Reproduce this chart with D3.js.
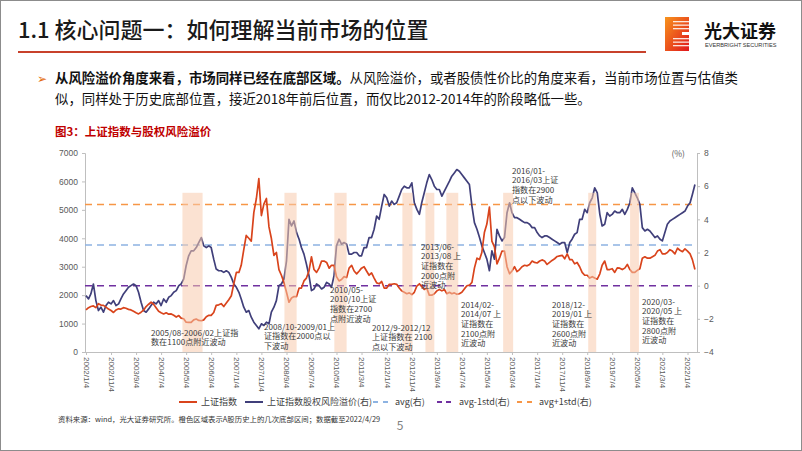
<!DOCTYPE html>
<html><head><meta charset="utf-8">
<script src="https://cdn.jsdelivr.net/npm/d3@7"></script>
<style>
html,body{margin:0;padding:0;background:#fff;}
svg{display:block;font-family:"Noto Sans CJK SC","Noto Sans",sans-serif;}
</style></head>
<body>
<svg id="c" width="802" height="451"></svg>
<script>
// ---------- DATA ----------
const seriesStart = "2002-01-04";   // monthly observations, one per month
const indexValues = [
 1480,1560,1600,1620,1560,1700,1650,1640,1580,1510,1460,1390,
 1480,1520,1510,1560,1540,1500,1480,1430,1380,1340,1400,1470,
 1600,1680,1750,1680,1560,1430,1380,1340,1380,1330,1340,1290,
 1230,1280,1190,1170,1050,1040,1040,1130,1160,1110,1100,1130,
 1240,1290,1290,1390,1640,1660,1700,1600,1720,1840,1980,2400,
 2800,2800,3050,3600,4100,4000,3900,4900,5400,6100,4800,5200,
 5400,4400,4000,3400,3500,2900,2700,2450,2100,1750,1900,1950,
 1950,2250,2250,2500,2600,2850,3350,2900,2800,2950,3200,3200,
 3150,2950,3050,3050,2650,2500,2550,2650,2620,2950,3050,2850,
 2750,2850,2950,3000,2850,2700,2780,2600,2430,2400,2480,2250,
 2250,2380,2380,2400,2380,2250,2150,2100,2050,2080,2020,2100,
 2320,2400,2300,2200,2250,2000,2000,2050,2150,2200,2150,2200,
 2050,2100,2050,2080,2030,2050,2100,2220,2330,2350,2450,2950,
 3300,3250,3500,4200,4500,5100,3900,3700,3100,3300,3550,3550,
 3000,2750,2850,3000,2830,2900,3000,3050,3030,3080,3200,3150,
 3130,3200,3240,3200,3080,3150,3220,3280,3360,3380,3400,3280,
 3450,3250,3250,3100,3150,3000,2800,2700,2700,2600,2650,2600,
 2560,2750,3050,3200,2900,2900,2930,2800,2960,2950,2900,2950,
 3080,2900,2800,2800,2870,2930,3300,3350,3300,3300,3350,3400,
 3550,3600,3450,3450,3500,3600,3550,3450,3650,3580,3530,3630,
 3550,3450,3250,2900
];
const erpValues = [
 -0.6,-0.8,-0.5,0.1,-0.9,-1.5,-1.3,-1.6,-1.2,-1.0,-1.1,-0.9,
 -1.2,-1.1,-0.8,-0.5,-0.3,-0.1,0.0,0.1,0.0,-0.4,-1.0,-1.5,
 -1.6,-1.4,-1.2,-1.0,-1.1,-0.9,-1.2,-0.8,-1.0,-0.7,-0.6,-0.4,
 -0.3,0.0,0.1,0.4,1.2,1.8,2.1,2.1,2.3,2.6,2.9,2.4,
 2.3,2.4,2.3,1.6,1.0,0.9,0.9,0.8,0.9,0.8,0.5,0.1,
 -0.1,-0.4,-0.8,-1.3,-1.6,-1.5,-1.9,-2.2,-2.4,-2.6,-2.3,-2.4,
 -2.2,-2.3,-1.6,-1.3,-0.9,0.0,0.1,0.4,1.5,4.0,3.6,3.9,
 3.2,2.8,2.3,1.9,1.3,0.6,-0.3,-0.2,0.1,0.0,-0.2,-0.1,
 0.2,0.1,-0.1,0.6,2.4,2.8,2.5,2.6,2.5,1.9,1.9,2.0,
 2.0,1.8,1.8,2.3,2.3,2.9,2.9,3.4,4.2,4.0,4.8,5.5,
 5.3,4.8,5.1,4.9,5.0,5.4,5.8,6.0,5.9,5.9,6.2,5.0,
 4.6,4.3,5.0,5.6,6.2,6.7,6.4,6.0,5.8,5.8,5.4,5.7,
 6.0,6.3,6.6,6.8,7.0,6.9,6.7,6.5,6.3,6.1,4.8,3.8,
 3.4,2.9,2.4,2.0,1.6,0.9,2.1,1.6,3.4,3.0,2.7,2.9,
 4.4,5.0,4.4,4.1,4.1,4.0,3.9,3.8,3.8,3.7,3.5,3.5,
 3.2,3.0,2.9,3.0,3.0,2.9,2.8,2.7,2.6,2.5,2.6,2.6,
 2.0,2.6,2.8,3.1,3.2,4.0,4.0,4.6,4.4,5.0,5.3,5.9,
 5.6,4.3,3.6,3.7,4.4,4.2,4.3,4.5,4.4,4.4,4.6,4.3,
 4.6,5.0,5.9,5.6,5.3,4.9,3.5,3.3,3.4,3.3,3.1,2.9,
 3.0,2.8,2.7,3.2,3.7,3.9,4.0,4.1,4.2,4.3,4.4,4.5,
 4.8,5.0,5.5,6.1
];
const refNames  = ["avg(右)", "avg-1std(右)", "avg+1std(右)"];
const refValues = [2.45, 0.0, 4.9];
const bandStarts = ["2005-03-20","2008-08-10","2010-04-08","2012-07-12","2013-04-18","2013-12-28","2015-11-18","2018-09-16","2020-02-06"];
const bandEnds   = ["2005-11-20","2009-01-05","2010-09-04","2012-11-12","2013-08-04","2014-05-22","2016-03-18","2018-12-22","2020-05-24"];
const bandTop = 5600;
const xTickLabels = ["2002/1/4","2002/11/4","2003/9/4","2004/7/4","2005/5/4","2006/3/4","2007/1/4","2007/11/4","2008/9/4","2009/7/4","2010/5/4","2011/3/4","2012/1/4","2012/11/4","2013/9/4","2014/7/4","2015/5/4","2016/3/4","2017/1/4","2017/11/4","2018/9/4","2019/7/4","2020/5/4","2021/3/4","2022/1/4"];
const leftTicks  = [0,1000,2000,3000,4000,5000,6000,7000];
const rightTicks = [-4,-2,0,2,4,6,8];
const annotations = [
 ["2005/08-2006/02上证指","数在1100点附近波动"],
 ["2008/10-2009/01上","证指数在2000点以","下波动"],
 ["2010/05-","2010/10上证","指数在2700","点附近波动"],
 ["2012/9-2012/12","上证指数在 2100","点以下波动"],
 ["2013/06-","2013/08 上","证指数在","2000点附","近波动"],
 ["2014/02-","2014/07 上","证指数在","2100点附","近波动"],
 ["2016/01-","2016/03上证","指数在2900","点以下波动"],
 ["2018/12-","2019/01 上","证指数在","2600点附","近波动"],
 ["2020/03-","2020/05 上","证指数在","2800点附","近波动"]
];
const annoAnchor = [[151,333],[264,327],[330,290],[372,328],[421,247],[461,305],[512,171],[552,305],[642,302]];

// ---------- SCALES ----------
const svg = d3.select("#c");
const parse = d3.timeParse("%Y-%m-%d");
const parseTick = d3.timeParse("%Y/%m/%d");
const x = d3.scaleTime().domain([parse("2002-01-04"), parse("2022-04-29")]).range([86, 697]);
const yL = d3.scaleLinear().domain([0,7000]).range([352,153]);
const yR = d3.scaleLinear().domain([-4,8]).range([352,153]);
const months = d3.timeMonth.range(parse("2002-01-01"), parse("2022-05-01")).map(d => d3.timeDay.offset(d, 3));
const idx = months.map((d,i) => ({d, v: indexValues[i]}));
const erp = months.map((d,i) => ({d, v: erpValues[i]}));

// ---------- FRAME / HEADER ----------
svg.append("rect").attr("x",0.5).attr("y",0.5).attr("width",801).attr("height",450).attr("fill","none").attr("stroke","#8c8c8c");
svg.append("text").attr("x",18).attr("y",38).attr("font-size",22).attr("font-weight",500).attr("fill","#1a1a1a").text("1.1 核心问题一：如何理解当前市场的位置");
svg.append("line").attr("x1",18).attr("x2",646).attr("y1",52).attr("y2",52).attr("stroke","#c8412b").attr("stroke-width",2);
const defs = svg.append("defs");
const lg = defs.append("linearGradient").attr("id","lg").attr("x1",0).attr("y1",0).attr("x2",1).attr("y2",1);
lg.append("stop").attr("offset",0).attr("stop-color","#f7941d");
lg.append("stop").attr("offset",1).attr("stop-color","#e0161d");
svg.append("rect").attr("x",665).attr("y",17).attr("width",24).attr("height",34).attr("fill","url(#lg)");
[21,24.5,28,38,41.5,45].forEach(yy=>{
  svg.append("rect").attr("x",673).attr("y",yy).attr("width",17).attr("height",1.3).attr("fill","#fff").attr("opacity",0.85);
});
svg.append("rect").attr("x",682).attr("y",32).attr("width",8).attr("height",3).attr("fill","#fff");
svg.append("text").attr("x",704).attr("y",38).attr("font-size",18).attr("font-weight",700).attr("fill","#111").text("光大证券");
svg.append("text").attr("x",705).attr("y",47).attr("font-size",5.6).attr("fill","#333").attr("font-family","Liberation Sans, Arial").text("EVERBRIGHT SECURITIES");

svg.append("text").attr("x",37).attr("y",83).attr("font-size",12).attr("fill","#e46c0a").text("➢");
const p1 = svg.append("text").attr("x",55).attr("y",83).attr("font-size",13.4).attr("fill","#111");
p1.append("tspan").attr("font-weight",700).text("从风险溢价角度来看，市场同样已经在底部区域。");
p1.append("tspan").text("从风险溢价，或者股债性价比的角度来看，当前市场位置与估值类");
svg.append("text").attr("x",55).attr("y",104).attr("font-size",13.4).attr("fill","#111").text("似，同样处于历史底部位置，接近2018年前后位置，而仅比2012-2014年的阶段略低一些。");

svg.append("text").attr("x",55).attr("y",136).attr("font-size",11.5).attr("font-weight",700).attr("fill","#c00000").text("图3：上证指数与股权风险溢价");

// ---------- AXES ----------
const axL = svg.append("g").attr("transform","translate(85,0)").call(d3.axisLeft(yL).tickValues(leftTicks).tickSize(3).tickPadding(4).tickFormat(d3.format("d")));
const axR = svg.append("g").attr("transform","translate(697,0)").call(d3.axisRight(yR).tickValues(rightTicks).tickSize(3).tickPadding(4).tickFormat(d3.format("d")));
const axB = svg.append("g").attr("transform","translate(0,352)").call(d3.axisBottom(x).tickValues(xTickLabels.map(parseTick)).tickSize(3).tickFormat((d,i)=>xTickLabels[i]));
[axL,axR,axB].forEach(g=>{
  g.selectAll("path,line").attr("stroke","#bfbfbf");
  g.selectAll("text").attr("fill","#595959").attr("font-size",8.5).attr("font-family","Liberation Sans, Arial, sans-serif");
});
axB.select(".domain").attr("d","M85,0.5H697");
axB.selectAll("text").attr("font-size",8).attr("transform","rotate(90)").attr("text-anchor","start").attr("x",5).attr("y",0).attr("dy","0.33em");
svg.append("text").attr("x",685).attr("y",157).attr("text-anchor","end").attr("font-size",8.5).attr("fill","#595959").text("(%)");

// ---------- REFERENCE LINES ----------
const refColors = ["#8db3e2","#7030a0","#f79646"];
const refDash = ["7,5","7,5","7,5"];
refValues.forEach((v,i)=>{
  svg.append("line").attr("x1",85).attr("x2",697).attr("y1",yR(v)).attr("y2",yR(v))
    .attr("stroke",refColors[i]).attr("stroke-width",1.5).attr("stroke-dasharray",refDash[i]);
});

// ---------- LINES ----------
const lineL = d3.line().x(d=>x(d.d)).y(d=>yL(d.v)).curve(d3.curveLinear);
const lineR = d3.line().x(d=>x(d.d)).y(d=>yR(d.v)).curve(d3.curveLinear);
svg.append("path").datum(erp).attr("d",lineR).attr("fill","none").attr("stroke","#403f7a").attr("stroke-width",1.7).attr("stroke-linejoin","round");
svg.append("path").datum(idx).attr("d",lineL).attr("fill","none").attr("stroke","#d9441c").attr("stroke-width",1.7).attr("stroke-linejoin","round");

// ---------- BANDS (semi-transparent overlay) ----------
svg.append("g").selectAll("rect").data(bandStarts.map((s,i)=>[parse(s),parse(bandEnds[i])])).join("rect")
  .attr("x",d=>x(d[0])).attr("width",d=>x(d[1])-x(d[0]))
  .attr("y",yL(bandTop)).attr("height",yL(0)-yL(bandTop))
  .attr("fill","#f8cbad").attr("opacity",0.55);

// ---------- ANNOTATIONS ----------
annotations.forEach((lines,i)=>{
  const t = svg.append("text").attr("font-size",8.1).attr("fill","#3a3a3a");
  lines.forEach((s,j)=>t.append("tspan").attr("x",annoAnchor[i][0]).attr("y",annoAnchor[i][1]+j*9.6).attr("dy","0.35em").text(s));
});

// ---------- LEGEND ----------
const leg = [
 {label:"上证指数", color:"#d9441c", dash:null, x:179},
 {label:"上证指数股权风险溢价(右)", color:"#403f7a", dash:null, x:245},
 {label:refNames[0], color:refColors[0], dash:"5,5", x:373},
 {label:refNames[1], color:refColors[1], dash:"5,4", x:437},
 {label:refNames[2], color:refColors[2], dash:"5,5", x:517}
];
leg.forEach(l=>{
  svg.append("line").attr("x1",l.x).attr("x2",l.x+18).attr("y1",402).attr("y2",402).attr("stroke",l.color).attr("stroke-width",2)
    .attr("stroke-dasharray",l.dash);
  svg.append("text").attr("x",l.x+22).attr("y",402).attr("dy","0.35em").attr("font-size",9).attr("fill","#404040").text(l.label);
});

// ---------- FOOTER ----------
svg.append("text").attr("x",58).attr("y",422).attr("font-size",7.4).attr("fill","#333").text("资料来源：wind，光大证券研究所。橙色区域表示A股历史上的几次底部区间；数据截至2022/4/29");
svg.append("text").attr("x",400).attr("y",430).attr("text-anchor","middle").attr("font-size",12).attr("fill","#7f7f7f").text("5");
</script>
</body></html>
